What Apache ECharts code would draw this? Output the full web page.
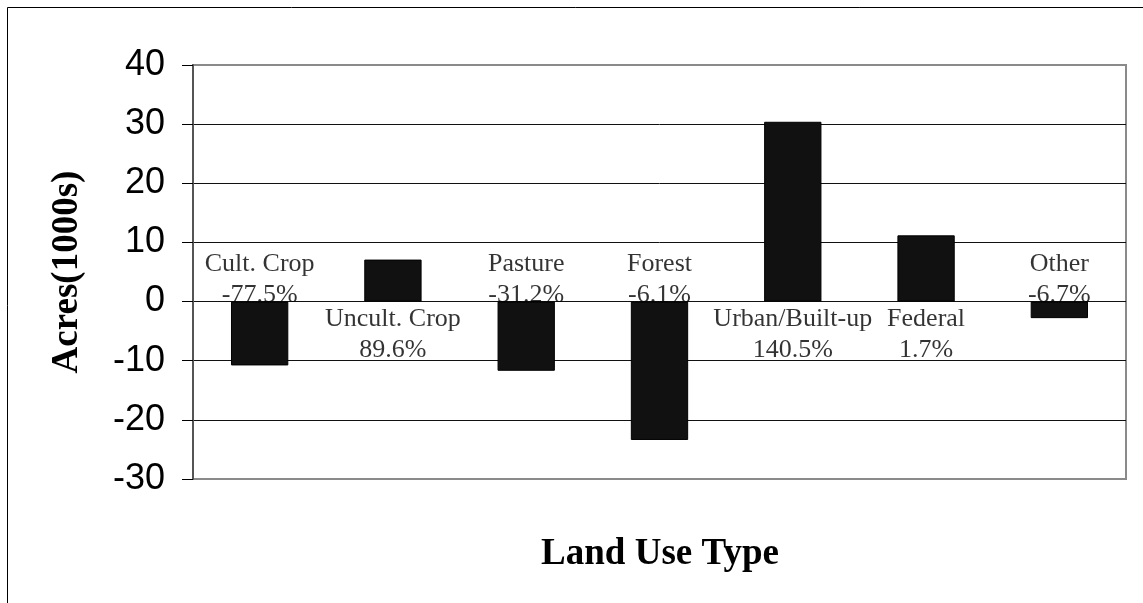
<!DOCTYPE html>
<html>
<head>
<meta charset="utf-8">
<script src="https://cdn.jsdelivr.net/npm/echarts@6/dist/echarts.min.js"></script>
<style>
  html, body { margin: 0; padding: 0; background: #fff; }
  #chart { width: 1143px; height: 603px; }
</style>
</head>
<body>
<div id="chart"></div>
<script>
// Change in acreage by land use type, thousands of acres, with percent change
const categories = ['Cult. Crop', 'Uncult. Crop', 'Pasture', 'Forest', 'Urban/Built-up', 'Federal', 'Other'];
const acreChange = [-10.8, 7.1, -11.7, -23.4, 30.4, 11.2, -2.8];
const percentChange = ['-77.5%', '89.6%', '-31.2%', '-6.1%', '140.5%', '1.7%', '-6.7%'];
const yTicks = [-30, -20, -10, 0, 10, 20, 30, 40];

const serif = '"Liberation Serif", "Times New Roman", serif';
const sans = '"Liberation Sans", Arial, sans-serif';

// Labels sit on the zero line: above it for losses, below it for gains
const labelPoints = categories.map((c, i) => ({
  value: 0,
  label: {
    position: acreChange[i] < 0 ? 'top' : 'bottom',
    distance: acreChange[i] < 0 ? -9 : 2
  }
}));

const chart = echarts.init(document.getElementById('chart'), null, { renderer: 'canvas' });

chart.setOption({
  animation: false,
  backgroundColor: '#ffffff',
  grid: {
    left: 193, right: 17, top: 65, bottom: 124,
    show: true,
    borderColor: '#8a8a8a',
    borderWidth: 2
  },
  xAxis: {
    type: 'category',
    data: categories,
    axisLine: { show: false },
    axisTick: { show: false },
    axisLabel: { show: false },
    splitLine: { show: false }
  },
  yAxis: {
    type: 'value',
    min: yTicks[0],
    max: yTicks[yTicks.length - 1],
    interval: 10,
    axisLine: { show: true, lineStyle: { color: '#555', width: 2 } },
    axisTick: { show: true, inside: false, length: 11, lineStyle: { color: '#000', width: 1 } },
    axisLabel: {
      margin: 28,
      color: '#000',
      fontFamily: sans,
      fontSize: 36
    },
    splitLine: {
      show: true,
      showMinLine: false,
      showMaxLine: false,
      lineStyle: { color: '#111', width: 1 }
    }
  },
  graphic: [
    {
      type: 'rect',
      shape: { x: 7.5, y: 7.5, width: 1400, height: 900 },
      style: { fill: 'none', stroke: '#000', lineWidth: 1 },
      silent: true,
      z: -1
    },
    {
      type: 'text',
      x: 67, y: 272,
      rotation: Math.PI / 2,
      style: {
        text: 'Acres(1000s)',
        font: 'bold 37px ' + serif,
        fill: '#000',
        align: 'center',
        verticalAlign: 'middle'
      }
    },
    {
      type: 'text',
      x: 660, y: 554,
      style: {
        text: 'Land Use Type',
        font: 'bold 37px ' + serif,
        fill: '#000',
        align: 'center',
        verticalAlign: 'middle'
      }
    }
  ],
  series: [
    {
      type: 'scatter',
      data: labelPoints,
      symbolSize: 0,
      z: 1,
      silent: true,
      label: {
        show: true,
        formatter: p => categories[p.dataIndex] + '\n' + percentChange[p.dataIndex],
        fontFamily: serif,
        fontSize: 26,
        lineHeight: 31,
        color: '#000',
        align: 'center'
      }
    },
    {
      type: 'bar',
      data: acreChange,
      barWidth: '43%',
      z: 3,
      itemStyle: { color: '#111', borderColor: '#000', borderWidth: 1 }
    }
  ]
});
</script>
</body>
</html>
